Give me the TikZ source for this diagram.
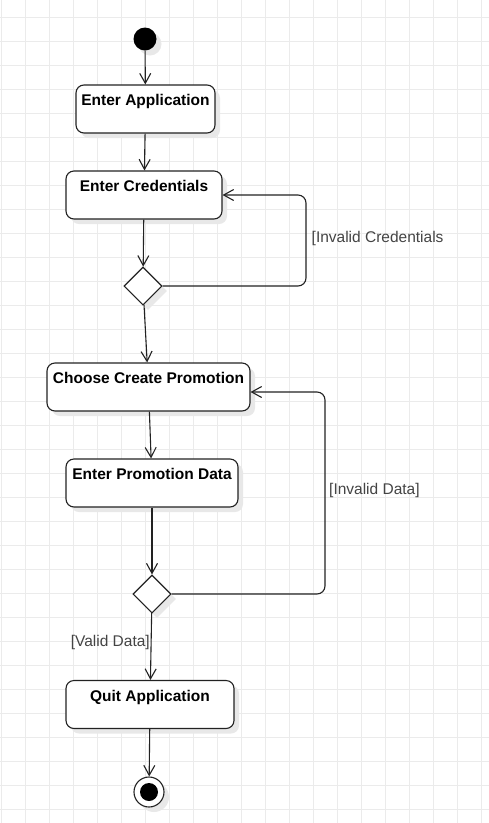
\documentclass[tikz,border=0pt]{standalone}
\usepackage{fontspec}
\setmainfont{Liberation Sans}
\usepackage{tikz}
\usetikzlibrary{arrows.meta,shapes.geometric,shadows}

\definecolor{gridgray}{HTML}{EBEBEB}
\definecolor{linegray}{HTML}{222222}
\definecolor{guardgray}{HTML}{444444}

\tikzset{
	softshadow/.style={drop shadow={shadow xshift=5pt, shadow yshift=-5pt, fill=black!9, opacity=1}},
	action/.style={draw=linegray, line width=1.1pt, fill=white, rounded corners=8, softshadow,
		font=\bfseries\fontsize{15.5}{18}\selectfont, inner xsep=2pt, inner ysep=4pt,
		text height=16.5pt, text depth=23.5pt},
	decision/.style={diamond, draw=linegray, line width=1.1pt, fill=white, softshadow,
		minimum width=38, minimum height=38, inner sep=0pt},
	startdot/.style={circle, fill=black, minimum size=23, inner sep=0pt, softshadow},
	endring/.style={circle, draw=linegray, line width=1.1pt, fill=white, minimum size=30, inner sep=0pt, softshadow},
	enddot/.style={circle, fill=black, minimum size=18, inner sep=0pt},
	guard/.style={text=guardgray, font=\fontsize{15.5}{18}\selectfont, inner sep=0pt},
	flow/.style={draw=linegray, line width=1.1pt, -{Straight Barb[length=10pt,width=11pt]}},
	gridline/.style={draw=gridgray, line width=0.8pt}
}

\begin{document}
\begin{tikzpicture}[x=1pt, y=-1pt]
			%%%%% START %%%%%
			\useasboundingbox[fill=white] (0,0) rectangle (489,823);
			
			\foreach \gx in {1,25,...,481} \draw[gridline] (\gx,0) -- (\gx,823);
			\foreach \gy in {17,41,...,809} \draw[gridline] (0,\gy) -- (489,\gy);
			
			\node[startdot] (start) at (145,39) {};
			
			\node[action, minimum width=139] (enterapp) at (145.5,109) {Enter Application};
			\node[action, minimum width=156] (entercred) at (144,195) {Enter Credentials};
			\node[decision] (credcheck) at (143,286) {};
			
			\node[action, minimum width=203] (choosepromo) at (148.5,387) {Choose Create Promotion};
			\node[action, minimum width=172] (enterdata) at (152,483) {Enter Promotion Data};
			\node[decision] (datacheck) at (152,594) {};
			
			\node[action, minimum width=168] (quitapp) at (150,704.5) {Quit Application};
			
			\node[endring] (stop) at (149,792) {};
			\node[enddot] (stopdot) at (stop) {};
			
			\coordinate (credloop) at (306,240);
			\coordinate (dataloop) at (325,490);
			
			\draw[flow] (start) -- (enterapp);
			\draw[flow] (enterapp) -- (entercred);
			\draw[flow] (entercred) -- (credcheck);
			\draw[flow, rounded corners=8] (credcheck.east) -- (credcheck.east -| credloop) -- (entercred.east -| credloop) -- (entercred.east);
			\node[guard, anchor=west] (credguard) at (311.5,238) {[Invalid Credentials};
			
			\draw[flow] (credcheck) -- (choosepromo);
			\draw[flow] (choosepromo) -- (enterdata);
			\draw[flow] (enterdata) -- (datacheck);
			\draw[flow, rounded corners=8] (datacheck.east) -- (datacheck.east -| dataloop) -- ([yshift=-5pt]choosepromo.east -| dataloop) -- ([yshift=-5pt]choosepromo.east);
			\node[guard, anchor=west] (dataguard) at (329,490) {[Invalid Data]};
			
			\draw[flow] (datacheck) -- (quitapp);
			\node[guard, anchor=east] (validguard) at (150,642) {[Valid Data]};
			
			\draw[flow] (quitapp) -- (stop);
			
			%%%%% END %%%%%
\end{tikzpicture}
\end{document}
